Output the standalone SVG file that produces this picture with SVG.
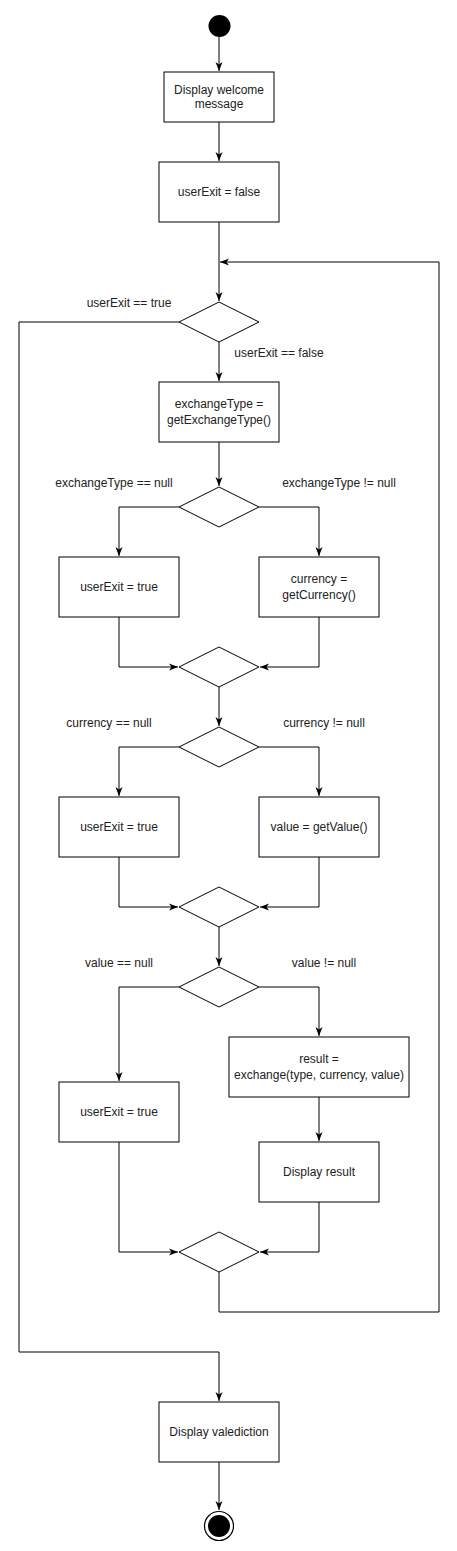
<svg xmlns="http://www.w3.org/2000/svg" width="457" height="1551" viewBox="0 0 457 1551">
<defs>
<marker id="arr" markerWidth="10" markerHeight="8" refX="9" refY="4" orient="auto" markerUnits="userSpaceOnUse">
<path d="M0,0.5 L9,4 L0,7.5 L2.5,4 z" fill="#000"/>
</marker>
<style>
.n{fill:#fff;stroke:#000;stroke-width:1}
.c{fill:none;stroke:#000;stroke-width:1}
text{font-family:"Liberation Sans",Arial,sans-serif;font-size:12px;fill:#222}
.m{text-anchor:middle}
</style>
</defs>
<rect width="457" height="1551" fill="#fff"/>
<g id="connectors">
<path class="c" d="M219,37 V71" marker-end="url(#arr)"/>
<path class="c" d="M219,122 V161" marker-end="url(#arr)"/>
<path class="c" d="M219,222 V301" marker-end="url(#arr)"/>
<path class="c" d="M219,1272 V1312 H439 V262 H220" marker-end="url(#arr)"/>
<path class="c" d="M179,322 H19 V1352 H219 V1401" marker-end="url(#arr)"/>
<path class="c" d="M219,342 V381" marker-end="url(#arr)"/>
<path class="c" d="M219,442 V486" marker-end="url(#arr)"/>
<path class="c" d="M179,507 H119 V556" marker-end="url(#arr)"/>
<path class="c" d="M259,507 H319 V556" marker-end="url(#arr)"/>
<path class="c" d="M119,617 V667 H178" marker-end="url(#arr)"/>
<path class="c" d="M319,617 V667 H260" marker-end="url(#arr)"/>
<path class="c" d="M219,687 V726" marker-end="url(#arr)"/>
<path class="c" d="M179,747 H119 V796" marker-end="url(#arr)"/>
<path class="c" d="M259,747 H319 V796" marker-end="url(#arr)"/>
<path class="c" d="M119,857 V907 H178" marker-end="url(#arr)"/>
<path class="c" d="M319,857 V907 H260" marker-end="url(#arr)"/>
<path class="c" d="M219,927 V966" marker-end="url(#arr)"/>
<path class="c" d="M179,987 H119 V1081" marker-end="url(#arr)"/>
<path class="c" d="M259,987 H319 V1036" marker-end="url(#arr)"/>
<path class="c" d="M319,1097 V1141" marker-end="url(#arr)"/>
<path class="c" d="M119,1142 V1252 H178" marker-end="url(#arr)"/>
<path class="c" d="M319,1202 V1252 H260" marker-end="url(#arr)"/>
<path class="c" d="M219,1462 V1510" marker-end="url(#arr)"/>
<text class="m" x="129" y="307">userExit == true</text>
<text class="m" x="279" y="357">userExit == false</text>
<text class="m" x="114" y="487">exchangeType == null</text>
<text class="m" x="339" y="487">exchangeType != null</text>
<text class="m" x="109" y="727">currency == null</text>
<text class="m" x="324" y="727">currency != null</text>
<text class="m" x="119" y="967">value == null</text>
<text class="m" x="324" y="967">value != null</text>
</g>
<g id="start"><circle cx="219.5" cy="26" r="11" fill="#000"/></g>
<g id="welcome"><rect class="n" x="164" y="72" width="110" height="50"/><text class="m" x="219" y="94">Display welcome</text><text class="m" x="219" y="108">message</text></g>
<g id="initExit"><rect class="n" x="159" y="162" width="120" height="60"/><text class="m" x="219" y="196">userExit = false</text></g>
<g id="d1"><polygon class="n" points="219,302 259,322 219,342 179,322"/></g>
<g id="getType"><rect class="n" x="159" y="382" width="120" height="60"/><text class="m" x="219" y="408">exchangeType =</text><text class="m" x="219" y="424">getExchangeType()</text></g>
<g id="d2"><polygon class="n" points="219,487 259,507 219,527 179,507"/></g>
<g id="exit1"><rect class="n" x="59" y="557" width="120" height="60"/><text class="m" x="119" y="591">userExit = true</text></g>
<g id="getCurrency"><rect class="n" x="259" y="557" width="120" height="60"/><text class="m" x="319" y="583">currency =</text><text class="m" x="319" y="599">getCurrency()</text></g>
<g id="m3"><polygon class="n" points="219,647 259,667 219,687 179,667"/></g>
<g id="d4"><polygon class="n" points="219,727 259,747 219,767 179,747"/></g>
<g id="exit2"><rect class="n" x="59" y="797" width="120" height="60"/><text class="m" x="119" y="831">userExit = true</text></g>
<g id="getValue"><rect class="n" x="259" y="797" width="120" height="60"/><text class="m" x="319" y="831">value = getValue()</text></g>
<g id="m5"><polygon class="n" points="219,887 259,907 219,927 179,907"/></g>
<g id="d6"><polygon class="n" points="219,967 259,987 219,1007 179,987"/></g>
<g id="exit3"><rect class="n" x="59" y="1082" width="120" height="60"/><text class="m" x="119" y="1116">userExit = true</text></g>
<g id="exchange"><rect class="n" x="229" y="1037" width="180" height="60"/><text class="m" x="319" y="1063">result =</text><text class="m" x="319" y="1079">exchange(type, currency, value)</text></g>
<g id="displayResult"><rect class="n" x="259" y="1142" width="120" height="60"/><text class="m" x="319" y="1176">Display result</text></g>
<g id="m7"><polygon class="n" points="219,1232 259,1252 219,1272 179,1252"/></g>
<g id="valediction"><rect class="n" x="159" y="1402" width="120" height="60"/><text class="m" x="219" y="1436">Display valediction</text></g>
<g id="end"><circle cx="219" cy="1526" r="14.5" fill="#fff" stroke="#000" stroke-width="1.2"/><circle cx="219" cy="1526" r="11" fill="#000"/></g>
</svg>
